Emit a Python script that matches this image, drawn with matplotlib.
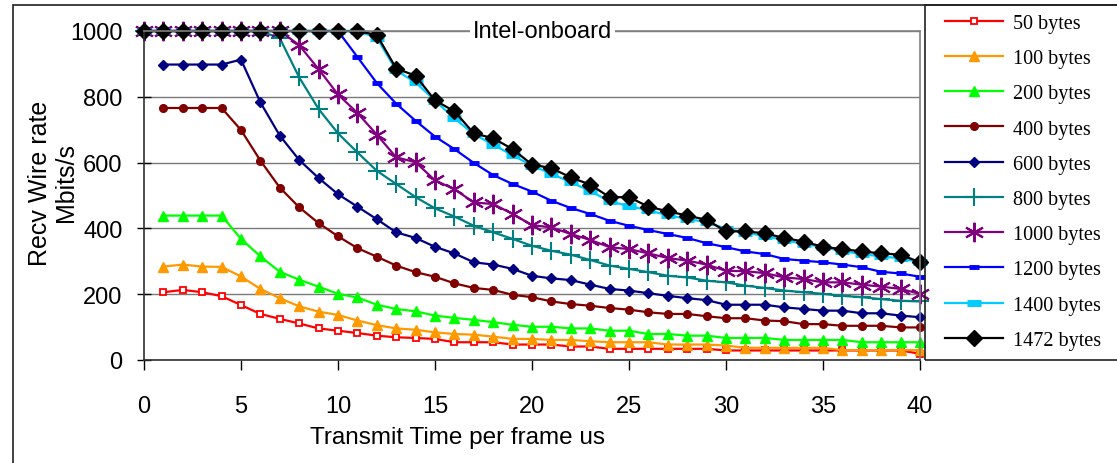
import matplotlib.pyplot as plt
import matplotlib.patches as mpatches
import numpy as np

# Data
x_full = list(range(0, 41))   # series that start at 0 us
x_part = list(range(1, 41))   # series that start at 1 us

y_50 = [206, 213, 206, 194, 167, 140, 125, 111, 96, 89, 82, 74, 69, 67, 64, 54, 54, 54, 47, 47,
        47, 41, 41, 34, 34, 34, 34, 34, 34, 29, 29, 29, 29, 29, 29, 29, 29, 29, 29, 19]
y_100 = [284, 290, 284, 283, 254, 216, 188, 163, 147, 137, 120, 106, 96, 92, 84, 79, 77, 71, 64, 64,
         61, 61, 57, 54, 54, 54, 47, 47, 47, 44, 37, 37, 37, 37, 37, 30, 30, 30, 30, 30]
y_200 = [439, 439, 439, 439, 368, 315, 268, 244, 223, 201, 190, 168, 155, 148, 135, 128, 122, 115, 107, 101,
         101, 96, 96, 89, 89, 79, 79, 74, 74, 67, 67, 67, 61, 61, 61, 61, 54, 54, 54, 54]
y_400 = [766, 766, 766, 766, 699, 606, 524, 464, 416, 376, 340, 314, 287, 267, 253, 233, 219, 213, 198, 191,
         178, 170, 165, 158, 153, 145, 140, 140, 133, 127, 127, 120, 118, 109, 109, 104, 104, 104, 99, 99]
y_600 = [898, 898, 898, 898, 913, 783, 682, 608, 553, 504, 466, 428, 388, 371, 344, 324, 297, 290, 277, 256,
         248, 243, 229, 216, 211, 203, 195, 188, 182, 168, 168, 168, 160, 155, 150, 150, 142, 142, 135, 130]
y_800 = [1000, 1000, 1000, 1000, 1000, 1000, 1000, 978, 859, 763, 689, 631, 575, 535, 495, 461, 436, 408, 388, 368,
         347, 332, 320, 304, 287, 277, 267, 256, 251, 241, 236, 226, 219, 211, 206, 201, 195, 191, 185, 180, 178]
y_1000 = [1000, 1000, 1000, 1000, 1000, 1000, 1000, 1000, 957, 884, 807, 751, 685, 616, 601, 546, 519, 479, 474, 444,
          410, 403, 383, 365, 343, 337, 324, 310, 302, 290, 271, 270, 264, 251, 246, 236, 236, 229, 223, 216, 201]
y_1200 = [1000, 1000, 1000, 1000, 1000, 1000, 1000, 1000, 1000, 1000, 1000, 921, 842, 779, 727, 679, 641, 599, 562, 535,
          512, 484, 462, 444, 423, 408, 395, 383, 371, 355, 343, 330, 322, 307, 302, 297, 290, 282, 268, 263, 253]
y_1400 = [1000, 1000, 1000, 1000, 1000, 1000, 1000, 1000, 1000, 1000, 1000, 1000, 980, 880, 844, 788, 735, 686, 655, 622,
          591, 566, 540, 514, 482, 468, 455, 440, 429, 419, 399, 387, 377, 364, 353, 343, 331, 322, 315, 309, 297]
y_1472 = [1000, 1000, 1000, 1000, 1000, 1000, 1000, 1000, 1000, 1000, 1000, 1000, 988, 886, 864, 789, 756, 689, 674, 641,
          594, 583, 555, 533, 495, 495, 466, 452, 439, 426, 391, 391, 385, 371, 360, 344, 337, 330, 324, 320, 297]

labels = ['50 bytes', '100 bytes', '200 bytes', '400 bytes', '600 bytes',
          '800 bytes', '1000 bytes', '1200 bytes', '1400 bytes', '1472 bytes']

########################################################################

# Plotting params
plt.rcParams['font.family'] = ['Liberation Sans', 'DejaVu Sans']
plt.rcParams['font.size'] = 17

W, H = 1117, 464
fig = plt.figure(figsize=(W / 100, H / 100), dpi=100)
ax = fig.add_axes([144 / W, (H - 361) / H, 776 / W, 329 / H])

# outer chart frame (cropped at right / bottom) and legend box
fig.patches.append(mpatches.Rectangle((13 / W, -0.1), 1.2, (H - 5.5) / H + 0.1, transform=fig.transFigure,
                                      fill=False, ec='#202020', lw=1.2))
fig.patches.append(mpatches.Rectangle((925 / W, (H - 361) / H), 0.3, (361 - 5.5) / H, transform=fig.transFigure,
                                      fill=False, ec='#202020', lw=1.2))

style = dict(lw=1.6, clip_on=False)
h = []
h += ax.plot(x_part, y_50, color='#FF0000', marker='s', ms=5, mfc='white', mec='#FF0000', mew=1.3, **style)
h += ax.plot(x_part, y_100, color='#FF9900', marker='^', ms=7, **style)
h += ax.plot(x_part, y_200, color='#00FF00', marker='^', ms=7, **style)
h += ax.plot(x_part, y_400, color='#800000', marker='o', ms=5.5, **style)
h += ax.plot(x_part, y_600, color='#000080', marker='D', ms=5, **style)
h += ax.plot(x_full, y_800, color='#008080', marker='+', ms=13, mew=1.5, **style)
h += ax.plot(x_full, y_1000, color='#800080', marker=(6, 2, 0), ms=14, mew=1.5, **style)
h += ax.plot(x_full, y_1200, color='#0000FF', marker='_', ms=7, mew=3.5, **style)
h += ax.plot(x_full, y_1400, color='#00CCFF', marker='_', ms=10, mew=5, **style)
h += ax.plot(x_full, y_1472, color='#000000', marker='D', ms=8.5, **style)

ax.set_xlim(0, 40)
ax.set_ylim(0, 1000)
ax.set_xticks(np.arange(0, 41, 5))
ax.set_yticks(np.arange(0, 1001, 200))

ax.yaxis.grid(True, color='#7a7a7a', lw=1)
ax.set_axisbelow(True)
for s in ['top', 'right']:
    ax.spines[s].set_color('#808080')
    ax.spines[s].set_linewidth(1.2)
for s in ['left', 'bottom']:
    ax.spines[s].set_color('#303030')
    ax.spines[s].set_linewidth(1.2)

ax.tick_params(axis='y', direction='inout', length=10, width=1, pad=10.5, labelsize=17)
ax.tick_params(axis='x', direction='out', length=7, width=1, pad=18, labelsize=17)

ax.text(0.513, 1.0, 'Intel-onboard', transform=ax.transAxes, ha='center', va='center',
        fontsize=17, bbox=dict(fc='white', ec='none', pad=2), zorder=5)

# axis titles
fig.text(458 / W, (H - 444) / H, 'Transmit Time per frame us', ha='center', va='baseline', fontsize=17.5)
fig.text(53 / W, (H - 183) / H, 'Recv Wire rate\nMbits/s', ha='center', va='center', rotation=90,
         fontsize=18, linespacing=1.15)

fig.legend(h, labels, loc='upper left', bbox_to_anchor=(945 / W, (H - 14.8) / H),
           frameon=False, borderpad=0, borderaxespad=0, handlelength=2.9, handletextpad=0.5,
           labelspacing=0.8, prop={'family': 'Liberation Serif', 'size': 14.5})

plt.savefig('out.png', dpi=100)
